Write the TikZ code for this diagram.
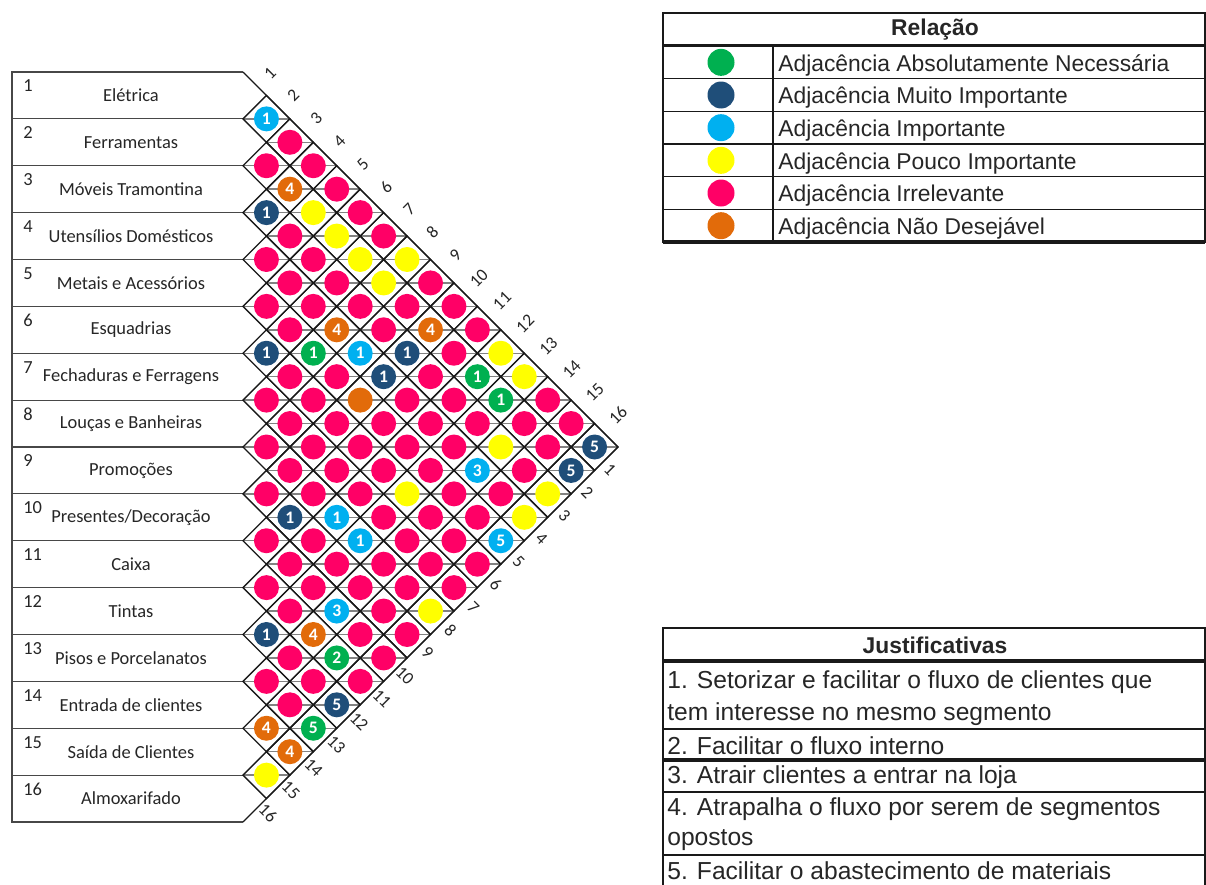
\documentclass[tikz,border=0pt]{standalone}
\usepackage{fontspec}
\setmainfont{Carlito}
\newfontfamily\tabfont{Liberation Sans}
\usetikzlibrary{positioning}
\definecolor{relA}{RGB}{0,176,80}
\definecolor{relE}{RGB}{31,78,121}
\definecolor{relI}{RGB}{0,176,240}
\definecolor{relO}{RGB}{255,255,0}
\definecolor{relU}{RGB}{255,0,102}
\definecolor{relX}{RGB}{226,107,10}
\definecolor{gridcolor}{RGB}{25,25,25}
\definecolor{midcolor}{RGB}{130,130,130}
\definecolor{labelcolor}{RGB}{38,38,38}
\tikzset{
rowlabel/.style={
  font=\fontsize{10.5}{12}\selectfont,
  text=labelcolor,
  inner sep=0pt
},
rownumber/.style={
  rowlabel,
  anchor=west
},
edgelabel/.style={
  font=\fontsize{10}{12}\selectfont,
  text=labelcolor,
  inner sep=0pt
},
relcircle/.style={
  circle,
  inner sep=0pt,
  minimum size=0.5cm,
  text=white,
  font=\fontsize{10}{12}\selectfont\bfseries
},
legendcircle/.style={
  circle,
  inner sep=0pt,
  minimum size=0.54cm
},
boxline/.style={
  draw=gridcolor!80,
  line width=0.7pt
},
cellline/.style={
  draw=gridcolor,
  line width=0.75pt
},
midline/.style={
  draw=midcolor,
  line width=0.8pt
},
tabline/.style={
  draw=gridcolor,
  line width=0.8pt
},
tabthick/.style={
  draw=gridcolor,
  line width=1.8pt
},
tabtext/.style={
  font=\tabfont\fontsize{13}{15}\selectfont,
  text=labelcolor,
  inner sep=0pt,
  anchor=west
},
justtext/.style={
  tabtext,
  font=\tabfont\fontsize{14}{16}\selectfont
},
tabtitle/.style={
  font=\tabfont\bfseries\fontsize{13}{15}\selectfont,
  text=labelcolor,
  inner sep=0pt
}
}
\def\rh{46.875}
\def\hr{23.4375}

\begin{document}
\begin{tikzpicture}[x=0.02cm, y=-0.02cm]
\useasboundingbox (0,0) rectangle (1206,885);

% ------------------------------------------------------------------
% setores
% ------------------------------------------------------------------
\draw[boxline] (243,72) -- (12,72) -- (12,822) -- (243,822);
\foreach \k in {1,...,15}
  \draw[boxline] (12,{72+\k*\rh}) -- (243,{72+\k*\rh});

\foreach \k/\name in {1/Elétrica, 2/Ferramentas, 3/Móveis Tramontina,
  4/Utensílios Domésticos, 5/Metais e Acessórios, 6/Esquadrias,
  7/Fechaduras e Ferragens, 8/Louças e Banheiras, 9/Promoções,
  10/{Presentes/Decoração}, 11/Caixa, 12/Tintas, 13/Pisos e Porcelanatos,
  14/Entrada de clientes, 15/Saída de Clientes, 16/Almoxarifado}
{
  \node[rownumber] (num-\k) at (23,{72+(\k-1)*\rh+14}) {\k};
  \node[rowlabel] (row-\k) at (131,{72+(\k-0.5)*\rh}) {\name};
}

% ------------------------------------------------------------------
% diagrama de relacionamento
% ------------------------------------------------------------------
\foreach \i in {1,...,15}{
  \pgfmathtruncatemacro\jfirst{\i+1}
  \foreach \j in {\jfirst,...,16}{
    \coordinate (d-\i-\j) at ({243+(\j-\i)*\hr}, {72+(\i+\j-1)*\hr});
    \draw[midline] (d-\i-\j) ++(-\hr,0) -- ++({2*\hr},0);
  }
}
\foreach \i in {1,...,15}{
  \pgfmathtruncatemacro\jfirst{\i+1}
  \foreach \j in {\jfirst,...,16}
    \draw[cellline] (d-\i-\j) ++(-\hr,0) -- ++(\hr,-\hr) -- ++(\hr,\hr)
      -- ++(-\hr,\hr) -- cycle;
}
\coordinate (top) at (243,72);
\coordinate (tip) at ({243+16*\hr},{72+16*\hr});
\coordinate (bottom) at (243,822);
\draw[cellline] (top) -- (tip) -- (bottom);

\foreach \i/\j/\code/\why in {
  1/2/I/1, 1/3/U/{}, 1/4/U/{}, 1/5/U/{}, 1/6/U/{}, 1/7/U/{}, 1/8/O/{}, 1/9/U/{},
  1/10/U/{}, 1/11/U/{}, 1/12/O/{}, 1/13/O/{}, 1/14/U/{}, 1/15/U/{}, 1/16/E/5,
  2/3/U/{}, 2/4/X/4, 2/5/O/{}, 2/6/O/{}, 2/7/O/{}, 2/8/O/{}, 2/9/U/{},
  2/10/X/4, 2/11/U/{}, 2/12/A/1, 2/13/A/1, 2/14/U/{}, 2/15/U/{}, 2/16/E/5,
  3/4/E/1, 3/5/U/{}, 3/6/U/{}, 3/7/U/{}, 3/8/U/{}, 3/9/U/{}, 3/10/E/1,
  3/11/U/{}, 3/12/U/{}, 3/13/U/{}, 3/14/O/{}, 3/15/U/{}, 3/16/O/{},
  4/5/U/{}, 4/6/U/{}, 4/7/U/{}, 4/8/X/4, 4/9/I/1, 4/10/E/1, 4/11/U/{},
  4/12/U/{}, 4/13/U/{}, 4/14/I/3, 4/15/U/{}, 4/16/O/{},
  5/6/U/{}, 5/7/U/{}, 5/8/A/1, 5/9/U/{}, 5/10/X/{}, 5/11/U/{}, 5/12/U/{},
  5/13/U/{}, 5/14/U/{}, 5/15/U/{}, 5/16/I/5,
  6/7/E/1, 6/8/U/{}, 6/9/U/{}, 6/10/U/{}, 6/11/U/{}, 6/12/U/{}, 6/13/O/{},
  6/14/U/{}, 6/15/U/{}, 6/16/U/{},
  7/8/U/{}, 7/9/U/{}, 7/10/U/{}, 7/11/U/{}, 7/12/U/{}, 7/13/U/{}, 7/14/U/{},
  7/15/U/{}, 7/16/U/{},
  8/9/U/{}, 8/10/U/{}, 8/11/U/{}, 8/12/I/1, 8/13/I/1, 8/14/U/{}, 8/15/U/{},
  8/16/O/{},
  9/10/U/{}, 9/11/E/1, 9/12/U/{}, 9/13/U/{}, 9/14/U/{}, 9/15/U/{}, 9/16/U/{},
  10/11/U/{}, 10/12/U/{}, 10/13/U/{}, 10/14/I/3, 10/15/U/{}, 10/16/U/{},
  11/12/U/{}, 11/13/U/{}, 11/14/X/4, 11/15/A/2, 11/16/U/{},
  12/13/E/1, 12/14/U/{}, 12/15/U/{}, 12/16/E/5,
  13/14/U/{}, 13/15/U/{}, 13/16/A/5,
  14/15/X/4, 14/16/X/4,
  15/16/O/{}}
  \node[relcircle, fill=rel\code] (c-\i-\j) at (d-\i-\j) {\why};

% numeros das colunas
\foreach \k in {1,...,16}{
  \node[edgelabel, rotate=45] (top-\k) at ({270+23.2*(\k-1)}, {73+22.8*(\k-1)}) {\k};
  \node[edgelabel, rotate=-45] (bot-\k) at ({610-22.8*(\k-1)}, {470+22.87*(\k-1)}) {\k};
}

% ------------------------------------------------------------------
% legenda - relacao
% ------------------------------------------------------------------
\draw[tabline] (663,13) rectangle (1205,242);
\draw[tabthick] (663,45.5) -- (1205,45.5);
\draw[tabline] (773,46) -- (773,242);
\foreach \k in {1,...,5}
  \draw[tabline] (663,{46+\k*32.67}) -- (1205,{46+\k*32.67});
\draw[tabthick] (663,242) -- (1205,242);
\node[tabtitle] (relacao) at (935,30) {Relação};

\foreach \k/\code/\txt in {1/A/Adjacência Absolutamente Necessária,
  2/E/Adjacência Muito Importante, 3/I/Adjacência Importante,
  4/O/Adjacência Pouco Importante, 5/U/Adjacência Irrelevante,
  6/X/Adjacência Não Desejável}
{
  \node[legendcircle, fill=rel\code] (leg-\k) at (721,{46+(\k-0.5)*32.67}) {};
  \node[tabtext] (legtxt-\k) at (778,{49+(\k-0.5)*32.67}) {\txt};
}

% ------------------------------------------------------------------
% legenda - justificativas
% ------------------------------------------------------------------
\draw[tabline] (663,885) -- (663,628) -- (1205,628) -- (1205,885);
\draw[tabthick] (663,661) -- (1205,661);
\draw[tabline] (663,729) -- (1205,729);
\draw[tabthick] (663,760) -- (1205,760);
\draw[tabline] (663,792) -- (1205,792);
\draw[tabline] (663,855) -- (1205,855);
\node[tabtitle] (justificativas) at (935,645) {Justificativas};

\node[justtext] (just-1a) at (667,682) {1. Setorizar e facilitar o fluxo de clientes que};
\node[justtext] (just-1b) at (667,714) {tem interesse no mesmo segmento};
\node[justtext] (just-2) at (667,746) {2. Facilitar o fluxo interno};
\node[justtext] (just-3) at (667,777) {3. Atrair clientes a entrar na loja};
\node[justtext] (just-4a) at (667,809) {4. Atrapalha o fluxo por serem de segmentos};
\node[justtext] (just-4b) at (667,840) {opostos};
\node[justtext] (just-5) at (667,871) {5. Facilitar o abastecimento de materiais};

\end{tikzpicture}
\end{document}
